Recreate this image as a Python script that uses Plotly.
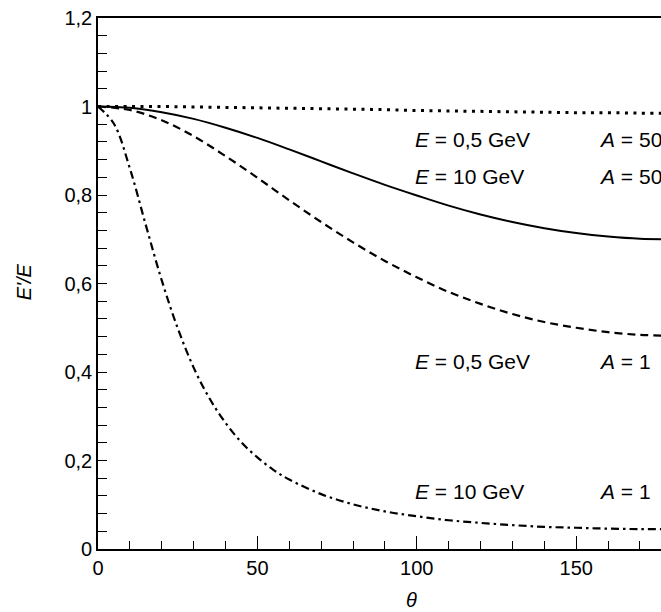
import plotly.graph_objects as go

# Scattering angle theta (degrees)
theta = [0, 10, 20, 30, 40, 50, 60, 70, 80, 90, 100, 110, 120, 130, 140, 150, 160, 170, 180]
theta_fine = [0, 5, 10, 15, 20, 25, 30, 35, 40, 45, 50, 55, 60, 70, 80, 90, 100, 110, 120, 130, 140, 150, 160, 170, 180]

# E'/E
r_e05_a50 = [1.000, 1.000, 1.000, 0.999, 0.998, 0.997, 0.996, 0.995, 0.994, 0.993, 0.991, 0.990, 0.989, 0.988, 0.987, 0.986, 0.986, 0.985, 0.985]
r_e10_a50 = [1.000, 0.997, 0.987, 0.972, 0.952, 0.929, 0.903, 0.876, 0.849, 0.823, 0.799, 0.776, 0.756, 0.739, 0.725, 0.714, 0.706, 0.701, 0.700]
r_e05_a1 = [1.000, 0.992, 0.969, 0.933, 0.888, 0.839, 0.788, 0.739, 0.693, 0.651, 0.614, 0.581, 0.554, 0.531, 0.513, 0.500, 0.490, 0.484, 0.482]
r_e10_a1 = [1.000, 0.961, 0.860, 0.732, 0.607, 0.499, 0.410, 0.340, 0.285, 0.241, 0.207, 0.179, 0.157, 0.124, 0.101, 0.085, 0.074, 0.065, 0.059, 0.054, 0.050, 0.048, 0.046, 0.045, 0.045]

x_tickvals = [0, 50, 100, 150]
x_ticktext = ["0", "50", "100", "150"]
y_tickvals = [0, 0.2, 0.4, 0.6, 0.8, 1.0, 1.2]
y_ticktext = ["0", "0,2", "0,4", "0,6", "0,8", "1", "1,2"]

labels_E = ["<i>E</i> = 0,5 GeV", "<i>E</i> = 10 GeV", "<i>E</i> = 0,5 GeV", "<i>E</i> = 10 GeV"]
labels_A = ["<i>A</i> = 50", "<i>A</i> = 50", "<i>A</i> = 1", "<i>A</i> = 1"]
label_y = [0.925, 0.841, 0.423, 0.129]
label_xE = 98.7
label_xA = 156.5

FONT = "Liberation Sans, Arial, sans-serif"

fig = go.Figure()
fig.add_trace(go.Scatter(x=theta, y=r_e05_a50, mode="lines",
                         line=dict(color="black", width=3, dash="3px,5.5px", shape="spline")))
fig.add_trace(go.Scatter(x=theta, y=r_e10_a50, mode="lines",
                         line=dict(color="black", width=2, shape="spline")))
fig.add_trace(go.Scatter(x=theta, y=r_e05_a1, mode="lines",
                         line=dict(color="black", width=2.2, dash="8px,5px", shape="spline")))
fig.add_trace(go.Scatter(x=theta_fine, y=r_e10_a1, mode="lines",
                         line=dict(color="black", width=2.2, dash="8px,4px,2.5px,4px", shape="spline")))

for t, yv in zip(labels_E, label_y):
    fig.add_annotation(x=label_xE, y=yv, text=t, showarrow=False, xanchor="left", yanchor="middle",
                       font=dict(family=FONT, size=21, color="black"))
for t, yv in zip(labels_A, label_y):
    fig.add_annotation(x=label_xA, y=yv, text=t, showarrow=False, xanchor="left", yanchor="middle",
                       font=dict(family=FONT, size=21, color="black"))

fig.add_annotation(xref="paper", yref="paper", x=-0.131, y=0.503, text="<i>E'/E</i>", textangle=-90,
                   xanchor="center", yanchor="middle",
                   showarrow=False, font=dict(family=FONT, size=20, color="black"))
fig.add_annotation(xref="paper", yref="paper", x=0.557, y=-0.096, text="<i>θ</i>",
                   xanchor="center", yanchor="middle",
                   showarrow=False, font=dict(family=FONT, size=20, color="black"))

fig.update_layout(
    width=661, height=612,
    margin=dict(l=98, r=0, t=18, b=63),
    paper_bgcolor="white", plot_bgcolor="white",
    showlegend=False,
    font=dict(family=FONT, size=19, color="black"),
)
fig.update_xaxes(range=[0, 176.6], showgrid=False, zeroline=False,
                 showline=True, linecolor="black", linewidth=1.6, mirror=True,
                 tickmode="array", tickvals=x_tickvals, ticktext=x_ticktext,
                 ticks="inside", ticklen=13, tickwidth=1.4, tickcolor="black",
                 minor=dict(tickmode="array", tickvals=list(range(0, 181, 10)),
                            ticks="inside", ticklen=8, tickwidth=1.4, tickcolor="black"),
                 tickfont=dict(family=FONT, size=20, color="black"))
fig.update_yaxes(range=[0, 1.2], showgrid=False, zeroline=False,
                 showline=True, linecolor="black", linewidth=1.6,
                 tickmode="array", tickvals=y_tickvals, ticktext=y_ticktext,
                 ticks="inside", ticklen=9, tickwidth=1.4, tickcolor="black",
                 minor=dict(tickmode="array", tickvals=[round(0.04 * i, 2) for i in range(31)],
                            ticks="inside", ticklen=9, tickwidth=1.4, tickcolor="black"),
                 tickfont=dict(family=FONT, size=20, color="black"))

fig.write_html("out.html", config={"displayModeBar": False},
               post_script="document.body.style.margin='0px'; document.body.style.overflow='hidden';")
